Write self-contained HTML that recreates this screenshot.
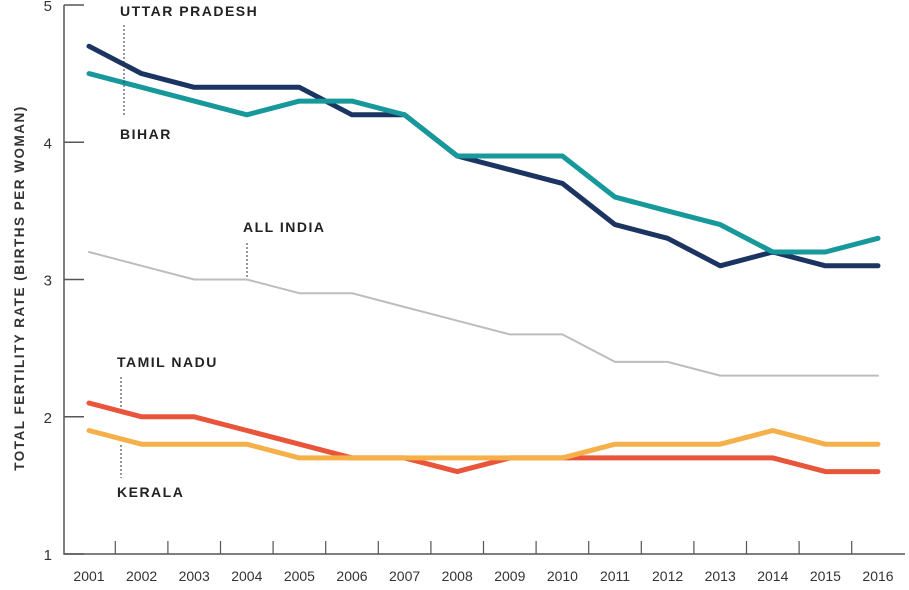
<!DOCTYPE html>
<html><head><meta charset="utf-8"><style>
html,body{margin:0;padding:0;background:#fff;}
svg{display:block;font-family:"Liberation Sans",sans-serif;}
</style></head><body>
<svg id="chart" width="909" height="590" viewBox="0 0 909 590"></svg>
<script>
const years = [2001,2002,2003,2004,2005,2006,2007,2008,2009,2010,2011,2012,2013,2014,2015,2016];
const yTicks = [1,2,3,4,5];
const upValues = [4.7,4.5,4.4,4.4,4.4,4.2,4.2,3.9,3.8,3.7,3.4,3.3,3.1,3.2,3.1,3.1];
const biharValues = [4.5,4.4,4.3,4.2,4.3,4.3,4.2,3.9,3.9,3.9,3.6,3.5,3.4,3.2,3.2,3.3];
const indiaValues = [3.2,3.1,3.0,3.0,2.9,2.9,2.8,2.7,2.6,2.6,2.4,2.4,2.3,2.3,2.3,2.3];
const tnValues = [2.1,2.0,2.0,1.9,1.8,1.7,1.7,1.6,1.7,1.7,1.7,1.7,1.7,1.7,1.6,1.6];
const keralaValues = [1.9,1.8,1.8,1.8,1.7,1.7,1.7,1.7,1.7,1.7,1.8,1.8,1.8,1.9,1.8,1.8];

const NS = "http://www.w3.org/2000/svg";
const svg = document.getElementById('chart');
const x = i => 89 + i * 52.6;
const y = v => 554 - (v - 1) * 137.25;
function mk(tag, attrs, parent) {
  const el = document.createElementNS(NS, tag);
  for (const k in attrs) el.setAttribute(k, attrs[k]);
  (parent || svg).appendChild(el);
  return el;
}
const axis = mk('path', {d:`M64 ${y(5)} V554 H905`, fill:'none', stroke:'#555', 'stroke-width':1.5});


yTicks.forEach(t => {
  const tk = mk('line', {x1:64, x2:84, y1:y(t), y2:y(t), stroke:'#555', 'stroke-width':1.5});
  
  
  const lb = mk('text', {x:52, y:y(t)+6, 'font-size':15, fill:'#333', 'text-anchor':'end'});
  lb.textContent = t;
  
  
});
years.forEach((yr, i) => {
  if (i < years.length - 1) {
    const tk = mk('line', {x1:x(i)+26.3, x2:x(i)+26.3, y1:541, y2:554, stroke:'#555', 'stroke-width':1.2});
    
    
  }
  const lb = mk('text', {x:x(i), y:581, 'font-size':14, fill:'#333', 'text-anchor':'middle'});
  lb.textContent = yr;
  
  
});
const yt = mk('text', {transform:'translate(24,288) rotate(-90)', 'font-size':13.5, 'font-weight':'bold', fill:'#333', 'text-anchor':'middle', 'letter-spacing':'1.5'});
yt.textContent = 'TOTAL FERTILITY RATE (BIRTHS PER WOMAN)';



function line(vals, color, w, name) {
  const d = vals.map((v,i) => (i?'L':'M') + x(i).toFixed(1) + ' ' + y(v).toFixed(1)).join(' ');
  const p = mk('path', {d, fill:'none', stroke:color, 'stroke-width':w, 'stroke-linejoin':'round', 'stroke-linecap':'round'});
  
  
}
line(indiaValues, '#bdbdbd', 2, 'all-india-line');
line(tnValues, '#e8553a', 5, 'tamil-nadu-line');
line(keralaValues, '#f6b04a', 5, 'kerala-line');
line(upValues, '#1c3461', 5, 'uttar-pradesh-line');
line(biharValues, '#17989a', 5, 'bihar-line');

function label(txt, lx, ly, name) {
  const t = mk('text', {x:lx, y:ly, 'font-size':14, 'font-weight':'bold', fill:'#222', 'letter-spacing':'1.5'});
  t.textContent = txt;
  
  
}
function leader(lx, y1, y2, name) {
  const l = mk('line', {x1:lx, x2:lx, y1, y2, stroke:'#333', 'stroke-width':1, 'stroke-dasharray':'2,2'});
  
  
}
label('UTTAR PRADESH', 120, 16, 'uttar-pradesh-label');
leader(124, 25, 116, 'up-bihar-leader');
label('BIHAR', 120, 139, 'bihar-label');
label('ALL INDIA', 243, 232, 'all-india-label');
leader(247, 243, 278, 'all-india-leader');
label('TAMIL NADU', 117, 367, 'tamil-nadu-label');
leader(121, 377, 408, 'tamil-nadu-leader');
leader(121, 445, 478, 'kerala-leader');
label('KERALA', 117, 497, 'kerala-label');
</script>
</body></html>
